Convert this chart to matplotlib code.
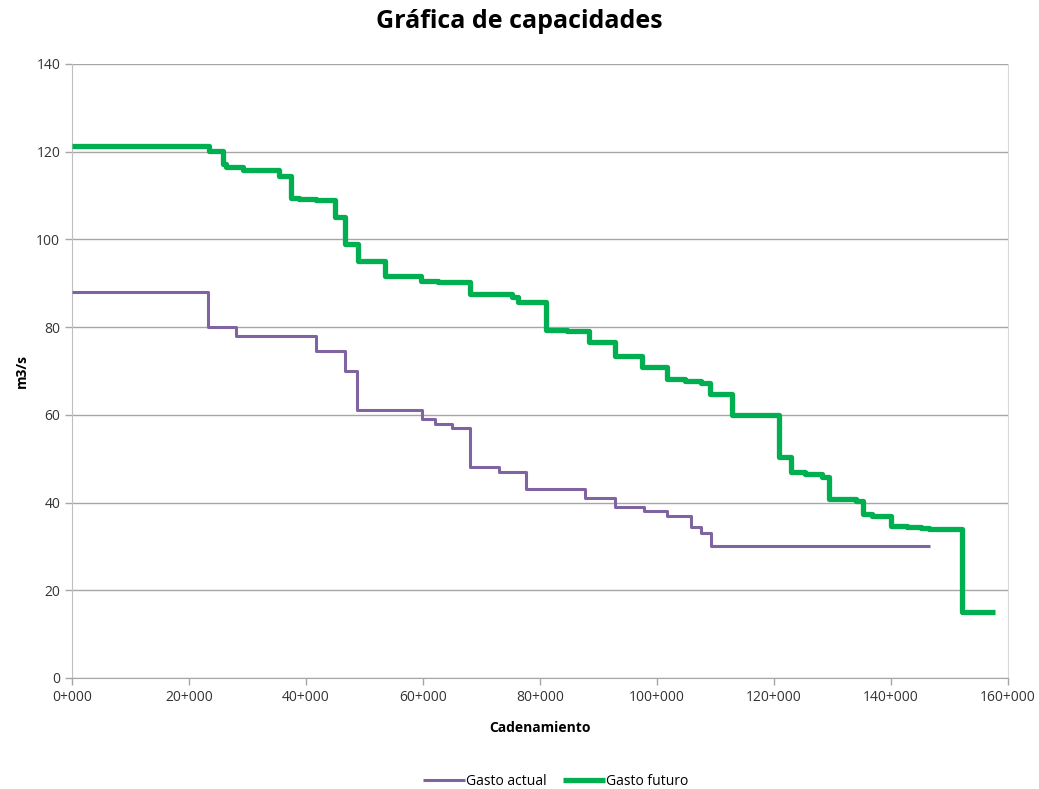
import numpy as np
import matplotlib.pyplot as plt
from matplotlib.ticker import FuncFormatter

# cadenamiento (km) y gasto (m3/s) por tramo
x_actual = [0, 23.3, 28.0, 41.7, 46.7, 48.8, 59.8, 62.0, 64.9, 68.0, 73.0,
            77.7, 87.7, 92.9, 97.8, 101.8, 105.9, 107.6, 109.2, 146.7]
q_actual = [88, 80, 78, 74.5, 70, 61, 59, 58, 57, 48, 47, 43, 41, 39, 38,
            37, 34.5, 33, 30]

x_futuro = [0, 23.4, 25.8, 26.4, 29.2, 35.4, 37.4, 38.8, 41.7, 45.0, 46.7,
            48.9, 53.5, 59.7, 62.6, 68.0, 75.2, 76.3, 81.1, 84.6, 88.4, 92.9,
            97.4, 101.8, 104.8, 107.6, 109.1, 112.9, 120.8, 122.9, 125.3,
            128.2, 129.4, 134.1, 135.2, 136.7, 140.0, 142.7, 145.2, 146.5,
            152.1, 157.8]
q_futuro = [121.2, 120.2, 117.2, 116.4, 115.7, 114.5, 109.4, 109.1, 109.0,
            105.2, 98.9, 95.1, 91.6, 90.6, 90.2, 87.5, 86.9, 85.8, 79.3, 79.2,
            76.6, 73.5, 70.8, 68.1, 67.8, 67.3, 64.8, 60.0, 50.3, 47.0, 46.6,
            45.9, 40.9, 40.4, 37.3, 36.9, 34.7, 34.5, 34.3, 33.9, 15.0]

plt.rcParams['font.family'] = ['Open Sans', 'DejaVu Sans']

fig = plt.figure(figsize=(10.39, 7.89), dpi=100)
ax = fig.add_axes([0.0693, 0.1407, 0.9007, 0.7783])

xa = np.array(x_actual) * 1000
ya = np.append(q_actual, q_actual[-1])
xf = np.array(x_futuro) * 1000
yf = np.append(q_futuro, q_futuro[-1])

ax.step(xa, ya, where='post', color='#8064a2', lw=2.2, label='Gasto actual',
        solid_capstyle='butt', zorder=3)
ax.step(xf, yf, where='post', color='#00b050', lw=3.8, label='Gasto futuro',
        solid_capstyle='butt', zorder=3)

ax.set_xlim(0, 160000)
ax.set_ylim(0, 140)
ax.set_xticks(np.arange(0, 160001, 20000))
ax.set_yticks(np.arange(0, 141, 20))
ax.xaxis.set_major_formatter(FuncFormatter(lambda v, p: f"{int(v // 1000)}+000"))

ax.grid(axis='y', color='#a6a6a6', lw=1)
ax.set_axisbelow(True)
ax.spines['top'].set_visible(False)
ax.spines['left'].set_color('#bfbfbf')
ax.spines['bottom'].set_color('#a6a6a6')
ax.spines['right'].set_color('#d9d9d9')
ax.tick_params(axis='both', colors='#a6a6a6', labelcolor='#333333',
               labelsize=10, length=5, width=1)

ax.set_xlabel('Cadenamiento', fontsize=10, fontweight='bold', labelpad=12)
ax.set_ylabel('m3/s', fontsize=10, fontweight='bold', labelpad=5)
fig.suptitle('Gráfica de capacidades', fontsize=18, fontweight='bold',
             y=0.988)

fig.legend(loc='lower center', bbox_to_anchor=(0.535, -0.016), ncol=2,
           frameon=False, fontsize=10, handlelength=3, handletextpad=0.1,
           columnspacing=1.2)

fig.savefig('out.png', dpi=100)
